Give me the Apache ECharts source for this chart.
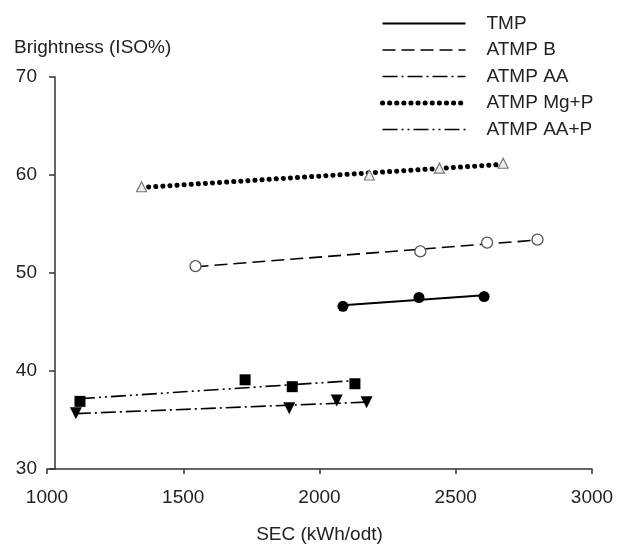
<!DOCTYPE html>
<html>
<head>
<meta charset="utf-8">
<script src="https://cdn.jsdelivr.net/npm/echarts@6/dist/echarts.min.js"></script>
<style>html,body{margin:0;padding:0;background:#fff}#c{width:621px;height:552px}</style>
</head>
<body>
<div id="c"></div>
<script>
// ---- data ----
const seriesNames = ['TMP', 'ATMP B', 'ATMP AA', 'ATMP Mg+P', 'ATMP AA+P'];
const tmpX = [2086, 2365, 2604];
const tmpY = [46.6, 47.5, 47.6];
const bX = [1545, 2370, 2615, 2800];
const bY = [50.7, 52.2, 53.1, 53.4];
const aaX = [1106, 1889, 2063, 2173];
const aaY = [35.7, 36.2, 37.0, 36.8];
const mgX = [1347, 2183, 2440, 2674];
const mgY = [58.8, 60.0, 60.7, 61.2];
const aapX = [1121, 1727, 1900, 2130];
const aapY = [36.9, 39.1, 38.4, 38.7];
const xTicks = [1000, 1500, 2000, 2500, 3000];
const yTicks = [30, 40, 50, 60, 70];

function pts(xs, ys) { return xs.map((x, i) => [x, ys[i]]); }
function fit(xs, ys) {
  const n = xs.length;
  const mx = xs.reduce((a, b) => a + b, 0) / n;
  const my = ys.reduce((a, b) => a + b, 0) / n;
  let sxy = 0, sxx = 0;
  for (let i = 0; i < n; i++) { sxy += (xs[i] - mx) * (ys[i] - my); sxx += (xs[i] - mx) ** 2; }
  const k = sxy / sxx, b = my - k * mx;
  const x0 = Math.min(...xs), x1 = Math.max(...xs);
  return [[x0, k * x0 + b], [x1, k * x1 + b]];
}

const groups = [
  { name: seriesNames[0], xs: tmpX, ys: tmpY, line: { type: 'solid', width: 2 }, sym: 'circle', size: 11, item: { color: '#000' } },
  { name: seriesNames[1], xs: bX, ys: bY, line: { type: [13, 6], width: 1.6 }, sym: 'circle', size: 11, item: { color: '#fff', borderColor: '#555', borderWidth: 1.3 } },
  { name: seriesNames[2], xs: aaX, ys: aaY, line: { type: [15, 4, 2, 4], width: 1.6 }, sym: 'triangle', size: 12, rot: 180, item: { color: '#000' } },
  { name: seriesNames[3], xs: mgX, ys: mgY, line: { type: [0.1, 7], width: 5, cap: 'round' }, sym: 'triangle', size: 10, item: { color: '#eee', borderColor: '#777', borderWidth: 1.2 } },
  { name: seriesNames[4], xs: aapX, ys: aapY, line: { type: [15, 4, 2, 4, 2, 4], width: 1.6 }, sym: 'rect', size: 11, item: { color: '#000' } }
];

const series = [];
groups.forEach(g => {
  series.push({
    name: g.name, type: 'line', data: fit(g.xs, g.ys), symbol: 'none', silent: true,
    itemStyle: { color: '#000', opacity: 0 },
    lineStyle: Object.assign({ color: '#000' }, g.line), z: 2, animation: false
  });
});
groups.forEach(g => {
  series.push({
    name: g.name + ' pts', type: 'scatter', data: pts(g.xs, g.ys), symbol: g.sym,
    symbolSize: g.size, symbolRotate: g.rot || 0,
    itemStyle: Object.assign({ opacity: 1 }, g.item), z: 3, animation: false
  });
});

const legendData = groups.map(g => ({
  name: g.name,
  lineStyle: Object.assign({ color: '#000' }, g.line)
}));

const chart = echarts.init(document.getElementById('c'), null, { renderer: 'canvas' });
chart.setOption({
  animation: false,
  backgroundColor: '#fff',
  textStyle: { fontFamily: 'Liberation Sans, Arial, sans-serif' },
  title: {
    text: 'Brightness (ISO%)', left: 9, top: 33,
    textStyle: { fontSize: 19, fontWeight: 'normal', color: '#222', fontFamily: 'Liberation Sans, Arial, sans-serif' }
  },
  legend: {
    data: legendData, orient: 'vertical', left: 380, top: 14, padding: 0,
    itemWidth: 83, itemHeight: 14, itemGap: 7.5,
    itemStyle: { opacity: 0 },
    textStyle: { fontSize: 19, color: '#222', padding: [0, 0, 0, 16] },
    selectedMode: false
  },
  grid: { left: 47, right: 29, top: 77, bottom: 83 },
  xAxis: {
    type: 'value', min: 1000, max: 3000, interval: 500,
    name: 'SEC (kWh/odt)', nameLocation: 'middle', nameGap: 56,
    nameTextStyle: { fontSize: 19, color: '#222' },
    axisLine: { onZero: false, lineStyle: { color: '#333', width: 1.5 } },
    axisTick: { length: 5, lineStyle: { color: '#333', width: 1.5 } },
    axisLabel: { fontSize: 19, color: '#222', margin: 19, formatter: v => xTicks.includes(v) ? String(v) : '' },
    splitLine: { show: false }
  },
  yAxis: {
    type: 'value', min: 30, max: 70, interval: 10, offset: -8,
    axisLine: { show: true, onZero: false, lineStyle: { color: '#333', width: 1.5 } },
    axisTick: { show: true, length: 6, lineStyle: { color: '#333', width: 1.5 } },
    axisLabel: { fontSize: 19, color: '#222', margin: 18, formatter: v => yTicks.includes(v) ? String(v) : '' },
    splitLine: { show: false }
  },
  series: series
});
</script>
</body>
</html>
